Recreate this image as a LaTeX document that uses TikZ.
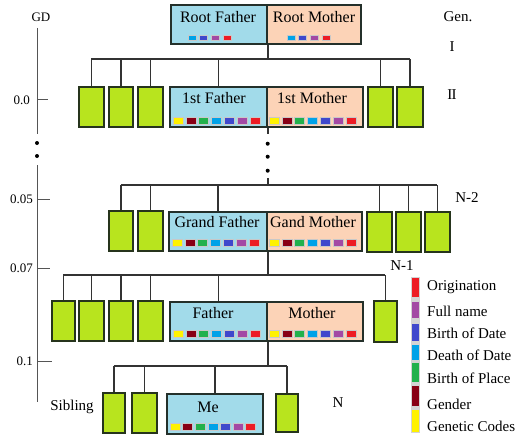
\documentclass[tikz,border=0pt]{standalone}
\usepackage{fontspec}
\setmainfont{Liberation Serif}
\definecolor{lblue}{HTML}{A2DBEA}
\definecolor{peach}{HTML}{FCD3B7}
\definecolor{lime}{HTML}{B8E41E}
\definecolor{bdc}{HTML}{24302A}
\definecolor{gbd}{HTML}{26341C}
\definecolor{cdc}{HTML}{333333}
\definecolor{axc}{HTML}{555555}
\definecolor{sqb}{HTML}{C8C8C8}
\definecolor{ye}{HTML}{FFF200}
\definecolor{dr}{HTML}{880015}
\definecolor{gr}{HTML}{22B14C}
\definecolor{cy}{HTML}{00A2E8}
\definecolor{bl}{HTML}{3F48CC}
\definecolor{pu}{HTML}{A349A4}
\definecolor{rd}{HTML}{ED1C24}
\newcommand\sqrow[6]{\foreach \c [count=\i from 0] in {#6} {\fill[\c, draw=sqb, line width=0.6pt] ({#1+\i*#3},#2) rectangle ++(#4,#5);}}
\begin{document}
\begin{tikzpicture}[x=1pt,y=-1pt,
  pbox/.style={draw=bdc, line width=1.7pt, inner sep=0pt, anchor=north west, minimum height=40pt},
  fbx/.style={pbox, fill=lblue},
  mbx/.style={pbox, fill=peach},
  sib/.style={pbox, draw=gbd, fill=lime},
  conn/.style={draw=cdc, line width=1.6pt},
  axln/.style={draw=axc, line width=1pt},
  nmlbl/.style={font=\fontsize{16}{19}\selectfont, inner sep=0pt},
  genlbl/.style={font=\fontsize{15}{18}\selectfont, inner sep=0pt},
  axlbl/.style={font=\fontsize{13}{15}\selectfont, inner sep=0pt},
  leglbl/.style={font=\fontsize{15}{18}\selectfont, inner sep=0pt, anchor=west}]
\useasboundingbox (0,0) rectangle (528,436);
\fill[white] (0,0) rectangle (528,436);

% Root row
\node[fbx, minimum width=96pt, minimum height=39pt] (rf) at (170,4) {};
\node[mbx, minimum width=94pt, minimum height=39pt] (rm) at (266,4) {};
\node[nmlbl] (rft) at (218,17) {Root Father};
\node[nmlbl] (rmt) at (314,17) {Root Mother};
\sqrow{188}{35}{11.7}{8}{5}{cy,bl,pu,rd}
\sqrow{287}{35}{11.7}{8}{5}{cy,bl,pu,rd}

% Generation II
\node[sib, minimum width=25pt] (g1) at (78,86) {};
\node[sib, minimum width=24pt] (g2) at (108,86) {};
\node[sib, minimum width=25pt] (g3) at (137,86) {};
\node[fbx, minimum width=97pt] (f1) at (169,86) {};
\node[mbx, minimum width=96pt] (m1) at (266,86) {};
\node[sib, minimum width=25pt] (g4) at (367,86) {};
\node[sib, minimum width=26pt] (g5) at (396,86) {};
\node[nmlbl] (f1t) at (214,98) {1st Father};
\node[nmlbl] (m1t) at (312,98) {1st Mother};
\sqrow{173}{117}{12.8}{10}{7}{ye,dr,gr,cy,bl,pu,rd}
\sqrow{269}{117}{12.8}{10}{7}{ye,dr,gr,cy,bl,pu,rd}

% Generation N-2
\node[sib, minimum width=24pt] (h1) at (108,210) {};
\node[sib, minimum width=25pt] (h2) at (137,210) {};
\node[fbx, minimum width=98pt, minimum height=39pt] (f2) at (168,211) {};
\node[mbx, minimum width=95pt, minimum height=39pt] (m2) at (266,211) {};
\node[sib, minimum width=25pt] (h3) at (366,211) {};
\node[sib, minimum width=25pt] (h4) at (395,211) {};
\node[sib, minimum width=25pt] (h5) at (424,211) {};
\node[nmlbl] (f2t) at (217,222) {Grand Father};
\node[nmlbl] (m2t) at (313,222) {Gand Mother};
\sqrow{172}{239}{12.8}{10}{7}{ye,dr,gr,cy,bl,pu,rd}
\sqrow{269}{239}{12.8}{10}{7}{ye,dr,gr,cy,bl,pu,rd}

% Generation N-1
\node[sib, minimum width=23pt] (k1) at (51,300) {};
\node[sib, minimum width=25pt] (k2) at (78,300) {};
\node[sib, minimum width=24pt] (k3) at (108,300) {};
\node[sib, minimum width=25pt] (k4) at (137,300) {};
\node[fbx, minimum width=97pt, minimum height=39pt] (f3) at (169,301) {};
\node[mbx, minimum width=96pt, minimum height=39pt] (m3) at (266,301) {};
\node[sib, minimum width=23pt, minimum height=41pt] (k5) at (373,300) {};
\node[nmlbl] (f3t) at (213,313) {Father};
\node[nmlbl] (m3t) at (312,313) {Mother};
\sqrow{173}{330}{12.8}{10}{7}{ye,dr,gr,cy,bl,pu,rd}
\sqrow{269}{330}{12.8}{10}{7}{ye,dr,gr,cy,bl,pu,rd}

% Generation N
\node[sib, minimum width=22pt] (s1) at (102,392) {};
\node[sib, minimum width=25pt] (s2) at (131,392) {};
\node[fbx, minimum width=96pt] (me) at (166,393) {};
\node[sib, minimum width=22pt, minimum height=38pt] (s3) at (275,393) {};
\node[nmlbl] (met) at (208,407) {Me};
\sqrow{170}{423}{12.6}{10}{7}{ye,dr,gr,cy,bl,pu,rd}

% bar levels
\coordinate (b1) at (0,59);
\coordinate (b2) at (0,185);
\coordinate (b3) at (0,275);
\coordinate (b4) at (0,366);

% connectors
\draw[conn] (rf.south east) -- (rf.south east |- b1);
\draw[conn] (g1.north |- b1) -- (g5.north |- b1);
\foreach \n in {g1,g2,g3,f1,g4,g5} \draw[conn] (\n.north) -- (\n.north |- b1);

\draw[conn] (f1.south east) -- ++(0,6);
\foreach \d in {16,29,43} \fill[black] ([yshift=-\d pt]f1.south east) circle (2pt);
\draw[conn] (f1.south east |- b2) -- ++(0,-7);
\draw[conn] (h1.north |- b2) -- (h5.north |- b2);
\foreach \n in {h1,h2,f2,h3,h4,h5} \draw[conn] (\n.north) -- (\n.north |- b2);

\draw[conn] (f2.south east) -- (f2.south east |- b3);
\draw[conn] (k1.north |- b3) -- (k5.north |- b3);
\foreach \n in {k1,k2,k3,k4,f3,k5} \draw[conn] (\n.north) -- (\n.north |- b3);

\draw[conn] (f3.south east) -- (f3.south east |- b4);
\draw[conn] (s1.north |- b4) -- (s3.north |- b4);
\foreach \n in {s1,s2,me,s3} \draw[conn] (\n.north) -- (\n.north |- b4);

% GD axis
\node[axlbl] (gd) at (41,17) {GD};
\coordinate (a0) at (37,28);
\coordinate (a1) at (37,134);
\coordinate (a2) at (37,165);
\coordinate (a3) at (37,402);
\draw[axln] (a0) -- (a1);
\draw[axln] (a2) -- (a3);
\fill[black] (37,143) circle (2pt);
\fill[black] (37,156) circle (2pt);
\coordinate (t1) at (48,100);
\coordinate (t2) at (50,199);
\coordinate (t3) at (50,268);
\coordinate (t4) at (52,361);
\draw[axln] (t1 -| a0) -- (t1);
\draw[axln] (t2 -| a0) -- (t2);
\draw[axln] (t3 -| a0) -- (t3);
\draw[axln] (t4 -| a0) -- (t4);
\node[axlbl, anchor=east] (l1) at (30,100) {0.0};
\node[axlbl, anchor=east] (l2) at (33,199) {0.05};
\node[axlbl, anchor=east] (l3) at (33,268) {0.07};
\node[axlbl, anchor=east] (l4) at (33,361) {0.1};

% generation labels
\node[genlbl] (gen) at (458,17) {Gen.};
\node[genlbl] (gI) at (452,47) {I};
\node[genlbl] (gII) at (452,95) {I\kern-0.6pt I};
\node[genlbl] (n2) at (467,198) {N-2};
\node[genlbl] (n1) at (402,266) {N-1};
\node[genlbl] (nn) at (338,403) {N};
\node[genlbl] (sibl) at (72,407) {Sibling};

% legend
\fill[sqb!80] (411,277) rectangle (420,433);
\foreach \c/\a/\b in {rd/278/297, pu/302/318, bl/324/341, cy/345/360, gr/363/382, dr/386/406, ye/410/432}
  \fill[\c] (412,\a) rectangle (419,\b);
\node[leglbl] (lo) at (427,287) {Origination};
\node[leglbl] (lf) at (427,311) {Full name};
\node[leglbl] (lb) at (427,333) {Birth of Date};
\node[leglbl] (ld) at (427,355) {Death of Date};
\node[leglbl] (lp) at (427,378) {Birth of Place};
\node[leglbl] (lg) at (427,404) {Gender};
\node[leglbl] (lc) at (427,426) {Genetic Codes};
\end{tikzpicture}
\end{document}
